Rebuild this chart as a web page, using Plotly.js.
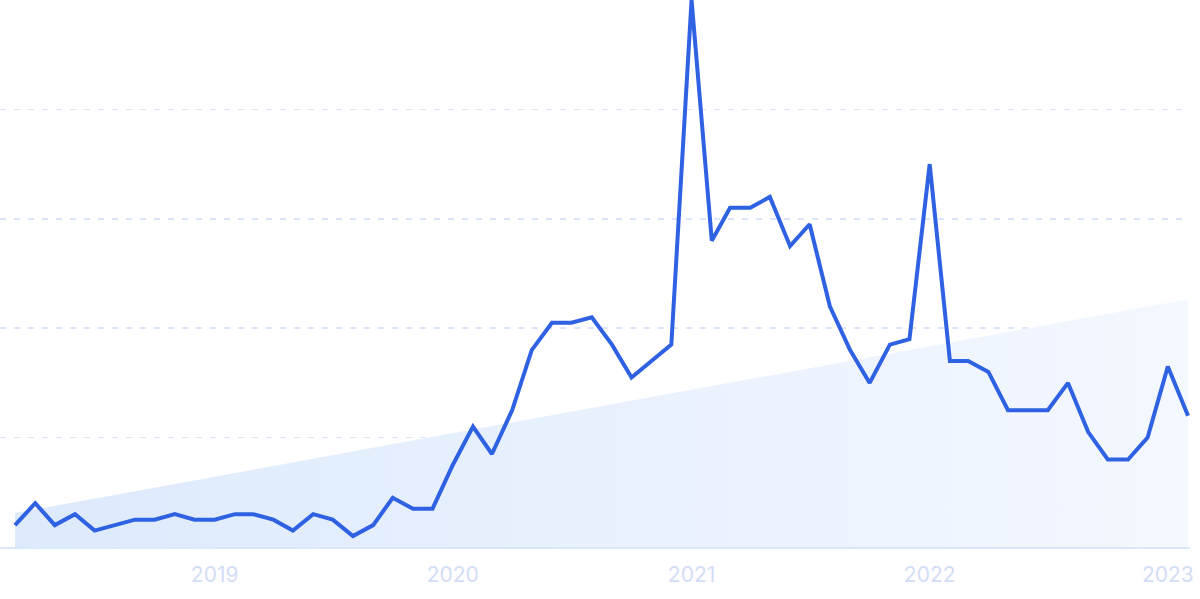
<!DOCTYPE html>
<html>
<head>
<meta charset="utf-8">
<script src="https://cdn.plot.ly/plotly-3.0.1.min.js"></script>
<style>
  html, body { margin: 0; padding: 0; background: #ffffff; }
  #chart { width: 1200px; height: 599px; }
</style>
</head>
<body>
<div id="chart"></div>
<script>
// Monthly data, Mar 2018 – Feb 2023
const months = [
  "2018-03-01","2018-04-01","2018-05-01","2018-06-01","2018-07-01","2018-08-01","2018-09-01","2018-10-01","2018-11-01","2018-12-01",
  "2019-01-01","2019-02-01","2019-03-01","2019-04-01","2019-05-01","2019-06-01","2019-07-01","2019-08-01","2019-09-01","2019-10-01","2019-11-01","2019-12-01",
  "2020-01-01","2020-02-01","2020-03-01","2020-04-01","2020-05-01","2020-06-01","2020-07-01","2020-08-01","2020-09-01","2020-10-01","2020-11-01","2020-12-01",
  "2021-01-01","2021-02-01","2021-03-01","2021-04-01","2021-05-01","2021-06-01","2021-07-01","2021-08-01","2021-09-01","2021-10-01","2021-11-01","2021-12-01",
  "2022-01-01","2022-02-01","2022-03-01","2022-04-01","2022-05-01","2022-06-01","2022-07-01","2022-08-01","2022-09-01","2022-10-01","2022-11-01","2022-12-01",
  "2023-01-01","2023-02-01"
];
const values = [
  4, 8, 4, 6, 3, 4, 5, 5, 6, 5,
  5, 6, 6, 5, 3, 6, 5, 2, 4, 9, 7, 7,
  15, 22, 17, 25, 36, 41, 41, 42, 37, 31, 34, 37,
  100, 56, 62, 62, 64, 55, 59, 44, 36, 30, 37, 38,
  70, 34, 34, 32, 25, 25, 25, 30, 21, 16, 16, 20,
  33, 24
];
// Trend line endpoints
const trendX = ["2018-03-01", "2023-02-01"];
const trendY = [6.2, 45.3];
const tickVals = ["2019-01-01", "2020-01-01", "2021-01-01", "2022-01-01", "2023-01-01"];
const tickText = ["2019", "2020", "2021", "2022", "2023"];

const trend = {
  x: trendX, y: trendY, type: "scatter", mode: "lines",
  line: { width: 0, color: "rgba(0,0,0,0)" },
  fill: "tozeroy",
  fillgradient: {
    type: "horizontal",
    colorscale: [[0, "rgba(221,234,252,1)"], [1, "rgba(244,248,255,1)"]]
  },
  hoverinfo: "skip", showlegend: false, cliponaxis: false
};
const line = {
  x: months, y: values, type: "scatter", mode: "lines",
  line: { color: "#2f62e3", width: 4, shape: "linear" },
  showlegend: false, cliponaxis: false
};

const layout = {
  width: 1200, height: 599,
  margin: { l: 0, r: 10, t: 0, b: 52 },
  paper_bgcolor: "#ffffff", plot_bgcolor: "#ffffff",
  showlegend: false,
  xaxis: {
    type: "date",
    range: ["2018-02-06", "2023-02-04"],
    tickvals: tickVals, ticktext: tickText,
    showgrid: false, zeroline: false,
    showline: true, linecolor: "#dbe8fb", linewidth: 2,
    ticks: "", ticklen: 0,
    ticklabelstandoff: 8,
    tickfont: { family: "Inter, 'Open Sans', sans-serif", size: 21, color: "#d3ddf6" },
    fixedrange: true
  },
  yaxis: {
    range: [0, 100],
    tickvals: [20, 40, 60, 80, 100],
    showticklabels: false,
    showgrid: true, gridcolor: "#dbe6fb", gridwidth: 1.5, griddash: "6px,8px",
    zeroline: false, showline: false, ticks: "",
    fixedrange: true
  }
};

Plotly.newPlot("chart", [trend, line], layout, { displayModeBar: false, staticPlot: true });
</script>
</body>
</html>
